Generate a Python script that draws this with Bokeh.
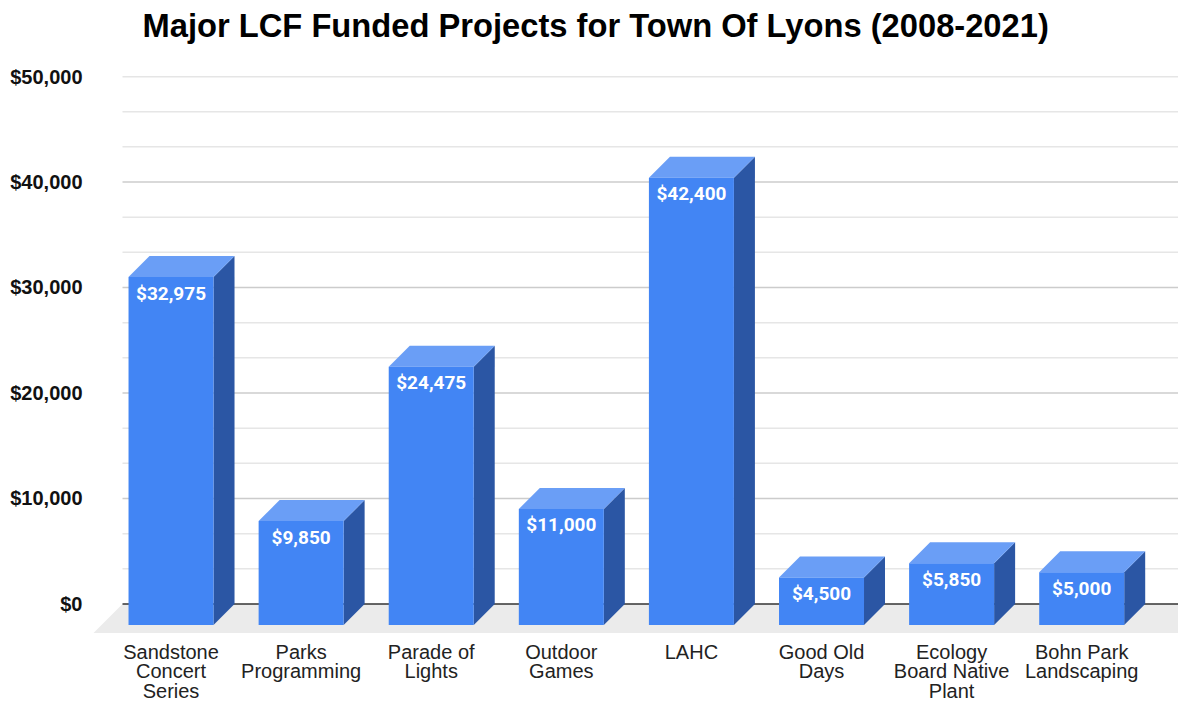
from bokeh.plotting import figure
from bokeh.models import FixedTicker, NumeralTickFormatter, Range1d, Title
from bokeh.core.properties import value
from bokeh.embed import file_html
from bokeh.resources import INLINE

# ---- data ----
categories = ["Sandstone\nConcert\nSeries", "Parks\nProgramming", "Parade of\nLights",
              "Outdoor\nGames", "LAHC", "Good Old\nDays", "Ecology\nBoard Native\nPlant",
              "Bohn Park\nLandscaping"]
values = [32975, 9850, 24475, 11000, 42400, 4500, 5850, 5000]
value_labels = ["$32,975", "$9,850", "$24,475", "$11,000", "$42,400", "$4,500", "$5,850", "$5,000"]
y_ticks = [0, 10000, 20000, 30000, 40000, 50000]
title_text = "Major LCF Funded Projects for Town Of Lyons (2008-2021)"

# ---- geometry / style ----
FRAME_W, FRAME_H = 1088, 557
X_START, X_END = -0.619, 7.744
Y_START, Y_END = -2800, 50000
PX_X = FRAME_W / (X_END - X_START)     # pixels per category unit
PX_Y = FRAME_H / (Y_END - Y_START)     # pixels per data unit
BAR_W = 85 / PX_X                      # front face width
DX = 21 / PX_X                         # 3D depth offset, x
DY = 21 / PX_Y                         # 3D depth offset, y
FDX = 29 / PX_X                        # floor depth, x
FDY = 29 / PX_Y                        # floor depth, y
GRID_X0 = X_START + 32 / PX_X
FRONT = "#4285F4"
TOP = "#6A9EF6"
SIDE = "#2B56A4"

p = figure(frame_width=FRAME_W, frame_height=FRAME_H, output_backend="svg", toolbar_location=None,
           title=None,
           x_range=Range1d(X_START, X_END), y_range=Range1d(Y_START, Y_END),
           min_border_left=90, min_border_right=0, min_border_top=76, min_border_bottom=69)
p.outline_line_color = None
p.xgrid.visible = False
p.ygrid.visible = False

# title: an empty spacer next to the frame, then the real title above it
p.add_layout(Title(text=" ", text_font_size="10px", standoff=12), "above")
p.add_layout(Title(text=title_text, align="left", offset=52, vertical_align="top",
                   standoff=12, text_font="Liberation Sans", text_font_style="bold",
                   text_font_size="32.7px", text_color="#000000"), "above")

# floor
x_floor_end = X_END + 0.5
p.patch([GRID_X0, x_floor_end, x_floor_end - FDX, GRID_X0 - FDX],
        [0, 0, -FDY, -FDY], fill_color="#EBEBEB", line_color=None)

# gridlines
minor = [y_ticks[-1] * k / 15 for k in range(1, 15) if k % 3 != 0]
p.segment(x0=[GRID_X0] * len(minor), y0=minor, x1=[X_END] * len(minor), y1=minor,
          line_color="#E6E6E6", line_width=1.5)
major = y_ticks[1:]
p.segment(x0=[GRID_X0] * len(major), y0=major, x1=[X_END] * len(major), y1=major,
          line_color="#CCCCCC", line_width=1.5)
p.segment(x0=[GRID_X0], y0=[0], x1=[X_END], y1=[0], line_color="#333333", line_width=1.5)

# bars
xs = list(range(len(values)))
lefts = [x - BAR_W / 2 for x in xs]
rights = [x + BAR_W / 2 for x in xs]
tops_xs = [[l, r, r + DX, l + DX] for l, r in zip(lefts, rights)]
tops_ys = [[v - DY, v - DY, v, v] for v in values]
side_xs = [[r, r, r + DX, r + DX] for r in rights]
side_ys = [[-DY, v - DY, v, 0] for v in values]
p.patches(side_xs, side_ys, fill_color=SIDE, line_color=None)
p.patches(tops_xs, tops_ys, fill_color=TOP, line_color=None)
p.quad(left=lefts, right=rights, bottom=[-DY] * len(values), top=[v - DY for v in values],
       fill_color=FRONT, line_color=None)

# value labels
p.text(x=xs, y=[v - DY for v in values], text=value_labels, text_color="white",
       text_font=value("Roboto"), text_font_style="bold", text_font_size="19px",
       text_align="center", text_baseline="middle", y_offset=16)

# axes
p.xaxis.ticker = FixedTicker(ticks=xs)
p.xaxis.major_label_overrides = {i: c for i, c in enumerate(categories)}
p.xaxis.axis_line_color = None
p.xaxis.major_tick_line_color = None
p.xaxis.minor_tick_line_color = None
p.xaxis.major_tick_out = 0
p.xaxis.major_tick_in = 0
p.xaxis.major_label_text_font = "Liberation Sans"
p.xaxis.major_label_text_font_size = "20px"
p.xaxis.major_label_text_color = "#222222"
p.xaxis.major_label_text_line_height = 0.9
p.xaxis.major_label_standoff = 7

p.yaxis.ticker = FixedTicker(ticks=y_ticks)
p.yaxis.formatter = NumeralTickFormatter(format="$0,0")
p.yaxis.axis_line_color = None
p.yaxis.major_tick_line_color = None
p.yaxis.minor_tick_line_color = None
p.yaxis.major_tick_out = 0
p.yaxis.major_tick_in = 0
p.yaxis.major_label_text_font = "Liberation Sans"
p.yaxis.major_label_text_font_style = "bold"
p.yaxis.major_label_text_font_size = "20px"
p.yaxis.major_label_text_color = "#111111"
p.yaxis.major_label_standoff = 8

open("out.html", "w").write(file_html(p, INLINE))
